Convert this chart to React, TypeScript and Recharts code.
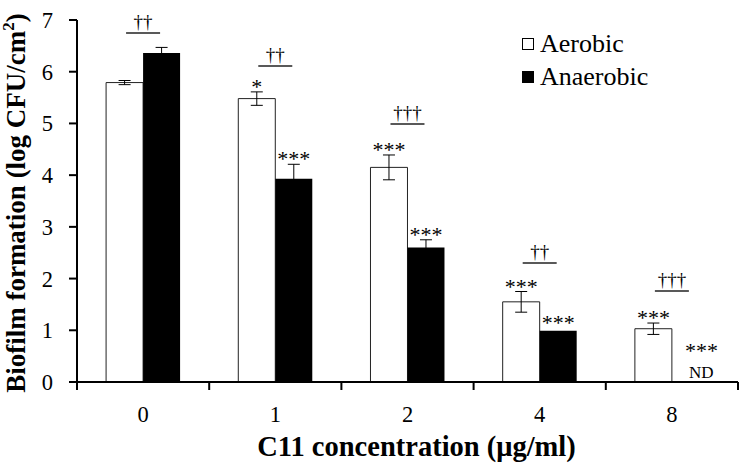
import React from 'react';
import { BarChart, Bar, XAxis, YAxis, ErrorBar, LabelList, Legend, Label } from 'recharts';

const categories = ['0', '1', '2', '4', '8'];
const aerobic = [5.79, 5.48, 4.15, 1.55, 1.03];
const aerobicErr = [0.04, 0.13, 0.24, 0.2, 0.11];
const anaerobic = [6.36, 3.93, 2.6, 0.99, 0];
const anaerobicErr = [0.11, 0.28, 0.15, 0, 0];
const aerobicStars = ['', '*', '***', '***', '***'];
const anaerobicStars = ['', '***', '***', '***', '***'];
const daggers = ['††', '††', '†††', '††', '†††'];
const daggerLevel = [6.75, 6.11, 4.99, 2.3, 1.76];
const ndText = ['', '', '', '', 'ND'];
const yTicks = [0, 1, 2, 3, 4, 5, 6, 7];
const seriesNames = ['Aerobic', 'Anaerobic'];
const seriesFills = ['#ffffff', '#000000'];

const data = categories.map((c, i) => ({
  conc: c,
  aerobic: aerobic[i],
  aerobicErr: aerobicErr[i],
  anaerobic: anaerobic[i],
  anaerobicErr: anaerobicErr[i],
}));

const FONT = '"Liberation Serif", "Times New Roman", serif';
const TICK = 8;
const MARGIN = 16;
const STAR_FS = 22;

const rectOf = (p: any) => {
  const vb = p.viewBox && typeof p.viewBox.x === 'number' ? p.viewBox : p;
  return { x: Number(vb.x), y: Number(vb.y), width: Number(vb.width), height: Number(vb.height) };
};

const Stars = ({ x, y, s }: any) =>
  s ? (
    <text x={x} y={y} textAnchor="middle" fontSize={STAR_FS} fontFamily={FONT} fill="#000">
      {s}
    </text>
  ) : null;

const AerobicAnn = (p: any) => {
  const { x, y, width, height } = rectOf(p);
  const i = p.index;
  const v = aerobic[i];
  const zero = y + height;
  const ppu = height / v;
  const errTop = zero - (v + aerobicErr[i]) * ppu;
  const cx = x + width / 2;
  const gx = x + width;
  const ly = zero - daggerLevel[i] * ppu;
  const ax = x + width * 1.5 + 11;
  return (
    <g>
      <Stars x={cx} y={errTop + 2} s={aerobicStars[i]} />
      <line x1={gx - 17} x2={gx + 17} y1={ly} y2={ly} stroke="#222" strokeWidth={1.5} />
      <text x={gx} y={ly - 5} textAnchor="middle" fontSize={19} fontFamily={FONT} fill="#000">
        {daggers[i]}
      </text>
      {anaerobic[i] === 0 ? (
        <g>
          <Stars x={ax} y={zero - 24.5} s={anaerobicStars[i]} />
          <text x={ax} y={zero - 4.5} textAnchor="middle" fontSize={17} fontFamily={FONT} fill="#000">
            {ndText[i]}
          </text>
        </g>
      ) : null}
    </g>
  );
};

const AnaerobicAnn = (p: any) => {
  const { x, y, width, height } = rectOf(p);
  const i = p.index;
  const v = anaerobic[i];
  if (!(v > 0)) return null;
  const zero = y + height;
  const cx = x + width / 2;
  const ppu = height / v;
  const e = anaerobicErr[i];
  const errTop = zero - (v + e) * ppu;
  return <Stars x={cx} y={errTop + 2 - (e === 0 ? 3 : 0)} s={anaerobicStars[i]} />;
};

const XTick = (p: any) => {
  const { x, y, payload, index } = p;
  const off = payload && typeof payload.offset === 'number' ? payload.offset : 0;
  const axisY = y - TICK - MARGIN;
  return (
    <g>
      <line x1={x - off} x2={x - off} y1={axisY} y2={axisY + TICK} stroke="#000" strokeWidth={2} />
      {index === categories.length - 1 ? (
        <line x1={x + off} x2={x + off} y1={axisY} y2={axisY + TICK} stroke="#000" strokeWidth={2} />
      ) : null}
      <text x={x} y={y} dy="0.71em" textAnchor="middle" fontSize={22.5} fontFamily={FONT} fill="#000">
        {payload.value}
      </text>
    </g>
  );
};

const YTitle = (p: any) => {
  const vb = p.viewBox || { x: 0, y: 20, width: 77, height: 362 };
  const cx = vb.x + 25;
  const cy = vb.y + vb.height / 2 + 2;
  return (
    <text
      x={cx}
      y={cy}
      transform={`rotate(-90, ${cx}, ${cy})`}
      textAnchor="middle"
      fontSize={27}
      fontWeight="bold"
      fontFamily={FONT}
      fill="#000"
    >
      Biofilm formation (log CFU/cm
      <tspan fontSize={17} dy={-11}>2</tspan>
      <tspan dy={11}>)</tspan>
    </text>
  );
};

const XTitle = (p: any) => {
  const vb = p.viewBox || { x: 77, y: 382, width: 661, height: 83 };
  const cx = vb.x + vb.width / 2 + 9;
  return (
    <text x={cx} y={456} textAnchor="middle" fontSize={28.5} fontWeight="bold" fontFamily={FONT} fill="#000">
      C11 concentration (μg/ml)
    </text>
  );
};

const LegendContent = () => (
  <div style={{ fontFamily: FONT, fontSize: 26, color: '#000', lineHeight: '33px' }}>
    {seriesNames.map((n, i) => (
      <div key={n} style={{ display: 'flex', alignItems: 'center', height: 33 }}>
        <span
          style={{
            display: 'inline-block',
            width: 12,
            height: 12,
            boxSizing: 'border-box',
            border: '1px solid #000',
            background: seriesFills[i],
            marginRight: 6,
          }}
        />
        <span>{n}</span>
      </div>
    ))}
  </div>
);

export default function App() {
  return (
    <div style={{ position: 'absolute', left: 0, top: 0, width: 741, height: 465, background: '#fff' }}>
      <BarChart
        width={741}
        height={465}
        data={data}
        margin={{ top: 20, right: 3, bottom: 0, left: 0 }}
        barCategoryGap="22%"
        barGap={0}
      >
        <XAxis
          dataKey="conc"
          height={83}
          axisLine={{ stroke: '#000', strokeWidth: 2 }}
          tickLine={false}
          tickSize={TICK}
          tickMargin={MARGIN}
          tick={<XTick />}
          interval={0}
        >
          <Label content={<XTitle />} />
        </XAxis>
        <YAxis
          width={77}
          domain={[0, 7]}
          ticks={yTicks}
          interval={0}
          axisLine={{ stroke: '#000', strokeWidth: 2 }}
          tickLine={{ stroke: '#000', strokeWidth: 2 }}
          tickSize={TICK}
          tickMargin={MARGIN}
          tick={{ fontSize: 22.5, fontFamily: FONT, fill: '#000' }}
        >
          <Label content={<YTitle />} />
        </YAxis>
        <Legend
          layout="vertical"
          align="center"
          verticalAlign="middle"
          content={<LegendContent />}
          wrapperStyle={{ left: 522, top: 27, width: 200, height: 70 }}
        />
        <Bar dataKey="aerobic" name="Aerobic" fill="#ffffff" stroke="#222" strokeWidth={1} isAnimationActive={false}>
          <ErrorBar dataKey="aerobicErr" width={6} stroke="#000" strokeWidth={1} />
          <LabelList dataKey="aerobic" content={<AerobicAnn />} />
        </Bar>
        <Bar dataKey="anaerobic" name="Anaerobic" fill="#000000" isAnimationActive={false}>
          <ErrorBar dataKey="anaerobicErr" width={6} stroke="#000" strokeWidth={1} />
          <LabelList dataKey="anaerobic" content={<AnaerobicAnn />} />
        </Bar>
      </BarChart>
    </div>
  );
}
